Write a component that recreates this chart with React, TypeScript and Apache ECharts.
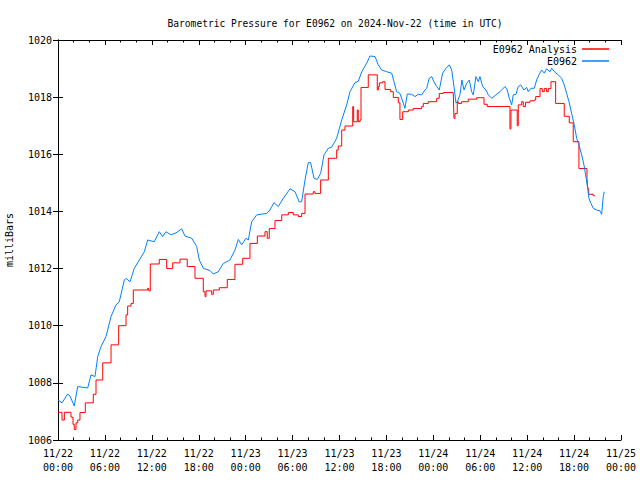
import React, { useEffect, useRef } from "react";
import * as echarts from "echarts";

// hours since 2024-11-22 00:00 UTC, pressure in mb
const stationSeries: [number, number][] = [
  [0, 1007.4], [0.51, 1007.3], [1.24, 1007.61], [1.53, 1007.54], [2.08, 1007.19], [2.52, 1007.87],
  [3.8, 1007.82], [4.22, 1008.28], [4.73, 1008.22], [5.08, 1008.92], [5.5, 1009.27], [6.14, 1009.62],
  [6.78, 1010.32], [7.42, 1010.73], [7.84, 1010.84], [8.48, 1011.6], [8.7, 1011.66], [9.21, 1011.54],
  [9.76, 1012.01], [11.04, 1012.59], [11.47, 1013.0], [12.31, 1012.94], [12.95, 1013.29], [13.39, 1013.12],
  [13.81, 1013.29], [14.45, 1013.18], [15.09, 1013.25], [15.82, 1013.39], [16.24, 1013.14], [17.1, 1013.06],
  [17.74, 1012.77], [18.07, 1012.3], [18.58, 1012.01], [19.44, 1011.93], [19.86, 1011.81], [20.5, 1011.89],
  [21.14, 1012.18], [21.99, 1012.3], [22.63, 1012.65], [23.06, 1013.02], [23.49, 1012.83], [24.04, 1013.06],
  [24.34, 1013.0], [24.77, 1013.64], [25.41, 1013.88], [26.69, 1013.93], [27.11, 1014.05], [27.62, 1014.31],
  [28.17, 1014.17], [28.81, 1014.46], [29.67, 1014.79], [30.31, 1014.69], [30.86, 1014.33], [31.16, 1014.34],
  [31.59, 1015.1], [32.01, 1015.71], [32.31, 1015.71], [32.74, 1015.16], [33.16, 1015.12], [33.59, 1015.33],
  [34.02, 1015.98], [34.57, 1016.21], [35.0, 1016.25], [35.64, 1016.56], [36.28, 1017.2], [36.92, 1017.73],
  [37.34, 1018.19], [37.98, 1018.51], [38.4, 1018.55], [38.84, 1018.89], [39.48, 1019.19], [39.9, 1019.44],
  [40.54, 1019.42], [40.96, 1019.13], [41.39, 1018.95], [42.03, 1018.89], [42.67, 1018.84], [42.97, 1018.54],
  [43.31, 1018.19], [43.73, 1018.13], [44.16, 1017.79], [44.37, 1017.61], [44.67, 1018.11], [45.23, 1018.1],
  [45.65, 1018.02], [46.07, 1018.1], [46.51, 1018.08], [46.93, 1018.25], [47.15, 1018.31], [47.48, 1018.66],
  [47.79, 1018.72], [48.08, 1018.54], [48.43, 1018.37], [48.76, 1018.25], [49.19, 1018.84], [49.62, 1019.01],
  [50.04, 1019.13], [50.35, 1018.95], [50.64, 1018.37], [50.9, 1017.79], [51.06, 1017.84], [51.41, 1018.08],
  [51.66, 1018.6], [51.92, 1018.25], [52.26, 1018.48], [52.6, 1018.6], [52.9, 1018.19], [53.11, 1018.08],
  [53.45, 1018.72], [53.75, 1018.54], [53.96, 1018.72], [54.31, 1018.37], [54.73, 1018.25], [55.03, 1018.08],
  [55.46, 1017.96], [56.01, 1018.08], [56.52, 1018.19], [57.16, 1018.37], [57.46, 1018.25], [57.71, 1017.96],
  [58.02, 1017.73], [58.22, 1018.08], [58.57, 1018.1], [58.86, 1018.37], [59.17, 1018.43], [59.59, 1018.25],
  [59.94, 1018.34], [60.14, 1018.19], [60.49, 1018.31], [60.91, 1018.31], [61.21, 1018.6], [61.51, 1018.78],
  [61.85, 1018.95], [62.19, 1018.84], [62.49, 1018.99], [62.92, 1018.89], [63.13, 1019.01], [63.56, 1018.87],
  [63.98, 1018.78], [64.41, 1018.66], [64.74, 1018.43], [65.05, 1018.13], [65.35, 1017.84], [65.69, 1017.43],
  [66.02, 1017.03], [66.33, 1016.56], [66.62, 1016.33], [66.97, 1015.98], [67.26, 1015.63], [67.48, 1015.28],
  [67.74, 1014.81], [67.9, 1014.46], [68.16, 1014.28], [68.45, 1014.11], [68.89, 1014.05], [69.31, 1014.02],
  [69.53, 1013.9], [69.73, 1014.52], [69.86, 1014.69],
];

const analysisSeries: [number, number][] = [
  [0, 1006.97], [0.51, 1006.7], [0.81, 1006.97], [1.66, 1006.8], [1.92, 1006.55], [2.08, 1006.37],
  [2.3, 1006.6], [2.52, 1006.7], [2.81, 1006.96], [3.49, 1007.3], [4.51, 1007.6], [4.86, 1008.1],
  [5.72, 1008.7], [6.78, 1009.33], [7.76, 1010.0], [8.7, 1010.38], [8.91, 1010.69], [9.34, 1010.78],
  [9.63, 1011.25], [11.47, 1011.31], [11.6, 1011.22], [11.8, 1012.16], [12.95, 1012.32], [13.9, 1012.0],
  [14.67, 1012.2], [15.6, 1012.33], [16.53, 1012.07], [17.52, 1011.66], [18.58, 1011.19], [18.8, 1011.02],
  [18.93, 1011.22], [19.65, 1011.1], [19.86, 1011.25], [20.63, 1011.33], [21.65, 1011.62], [22.63, 1012.15],
  [23.62, 1012.36], [24.55, 1012.88], [25.49, 1013.14], [26.47, 1013.29], [26.76, 1013.06], [27.02, 1013.4],
  [27.75, 1013.68], [28.61, 1013.88], [29.45, 1013.96], [30.09, 1013.88], [30.73, 1013.82], [31.16, 1013.93],
  [31.59, 1014.61], [32.65, 1014.69], [32.86, 1014.63], [33.59, 1015.1], [34.57, 1015.86], [35.64, 1016.15],
  [35.84, 1016.29], [36.28, 1016.85], [36.7, 1016.99], [37.69, 1017.67], [37.81, 1017.14], [38.27, 1017.55],
  [38.4, 1017.14], [38.62, 1017.2], [38.75, 1018.34], [39.68, 1018.78], [40.83, 1018.25], [40.96, 1018.37],
  [41.09, 1018.5], [41.52, 1018.54], [41.82, 1018.27], [42.54, 1018.19], [42.88, 1017.99], [43.52, 1017.8],
  [43.73, 1017.22], [44.08, 1017.49], [44.8, 1017.55], [45.43, 1017.6], [46.51, 1017.67], [46.72, 1017.78],
  [47.35, 1017.84], [48.43, 1017.96], [48.76, 1018.13], [49.27, 1018.16], [50.55, 1018.13], [50.64, 1017.26],
  [50.77, 1017.43], [51.06, 1017.84], [51.19, 1017.78], [51.62, 1017.84], [52.47, 1017.93], [53.54, 1017.98],
  [54.48, 1017.75], [54.9, 1017.67], [57.8, 1016.89], [57.93, 1017.55], [58.73, 1017.0], [58.86, 1017.73],
  [59.3, 1017.84], [59.5, 1017.67], [59.78, 1017.82], [60.36, 1017.87], [60.91, 1017.9], [61.09, 1018.02],
  [61.64, 1018.3], [61.93, 1018.19], [62.19, 1018.3], [62.49, 1018.19], [62.7, 1018.3], [63.04, 1018.54],
  [63.64, 1017.78], [64.74, 1017.33], [65.38, 1017.1], [65.89, 1016.44], [66.62, 1015.5], [67.65, 1015.16],
  [67.74, 1014.81], [67.87, 1014.6], [68.45, 1014.55], [68.67, 1014.55],
];

const seriesNames = ["E0962 Analysis", "E0962"];
const titleText = "Barometric Pressure for E0962 on 2024-Nov-22 (time in UTC)";
const yAxisName = "milliBars";
const startDay = 22;

const FONT = "'DejaVu Sans Mono', 'Liberation Mono', monospace";

function fmtX(h: number) {
  const day = startDay + Math.floor(h / 24);
  const hh = Math.round(h % 24);
  return `11/${day}\n${String(hh).padStart(2, "0")}:00`;
}

export default function App() {
  const ref = useRef<HTMLDivElement>(null);
  useEffect(() => {
    if (!ref.current) return;
    const chart = echarts.init(ref.current, null, { renderer: "svg" });
    const tick = { show: true, inside: true, length: 5, lineStyle: { color: "#000", width: 1 } };
    const minor = { show: true, splitNumber: 3, length: 2.5, lineStyle: { color: "#000", width: 1 } };
    const axisLine = { show: true, lineStyle: { color: "#000", width: 1 } };
    const xBase = { type: "value", min: 0, max: 72, interval: 6, splitLine: { show: false }, axisLine };
    const yBase = { type: "value", min: 1006, max: 1020, interval: 2, splitLine: { show: false }, axisLine };
    chart.setOption({
      animation: false,
      backgroundColor: "#fff",
      title: {
        text: titleText,
        left: 330,
        textAlign: "center",
        top: 13,
        textStyle: { fontFamily: FONT, fontSize: 9.6, fontWeight: "normal", color: "#000" },
      },
      legend: [
        {
          data: [seriesNames[0]],
          right: 31,
          top: 44,
          padding: 0,
          align: "right",
          icon: "rect",
          itemWidth: 27,
          itemHeight: 1.5,
          textStyle: { fontFamily: FONT, fontSize: 10, color: "#000" },
        },
        {
          data: [seriesNames[1]],
          right: 31,
          top: 56,
          padding: 0,
          align: "right",
          icon: "rect",
          itemWidth: 27,
          itemHeight: 1.5,
          textStyle: { fontFamily: FONT, fontSize: 10, color: "#000" },
        },
      ],
      grid: { left: 58, right: 19, top: 40, bottom: 40, containLabel: false, outerBoundsMode: "none" },
      xAxis: [
        {
          ...xBase,
          position: "bottom",
          axisTick: tick,
          minorTick: minor,
          axisLabel: {
            formatter: fmtX,
            fontFamily: FONT,
            fontSize: 10,
            color: "#000",
            lineHeight: 14,
            margin: 6,
          },
        },
        {
          ...xBase,
          position: "top",
          axisTick: tick,
          minorTick: minor,
          axisLabel: { show: false },
        },
      ],
      yAxis: [
        {
          ...yBase,
          position: "left",
          axisTick: tick,
          name: yAxisName,
          nameLocation: "middle",
          nameGap: 44,
          nameRotate: 90,
          nameTextStyle: { fontFamily: FONT, fontSize: 10, color: "#000" },
          axisLabel: {
            fontFamily: FONT,
            fontSize: 10,
            color: "#000",
            margin: 6,
            formatter: (v: number) => String(v),
          },
        },
        {
          ...yBase,
          position: "right",
          axisTick: tick,
          axisLabel: { show: false },
        },
      ],
      series: [
        {
          name: seriesNames[0],
          type: "line",
          step: "end",
          data: analysisSeries,
          showSymbol: false,
          lineStyle: { color: "#ff0000", width: 1 },
          itemStyle: { color: "#ff0000" },
        },
        {
          name: seriesNames[1],
          type: "line",
          data: stationSeries,
          showSymbol: false,
          lineStyle: { color: "#0080ff", width: 1 },
          itemStyle: { color: "#0080ff" },
        },
      ],
    });
    return () => chart.dispose();
  }, []);
  return <div ref={ref} style={{ width: 640, height: 480, position: "absolute", left: 0, top: 0 }} />;
}
